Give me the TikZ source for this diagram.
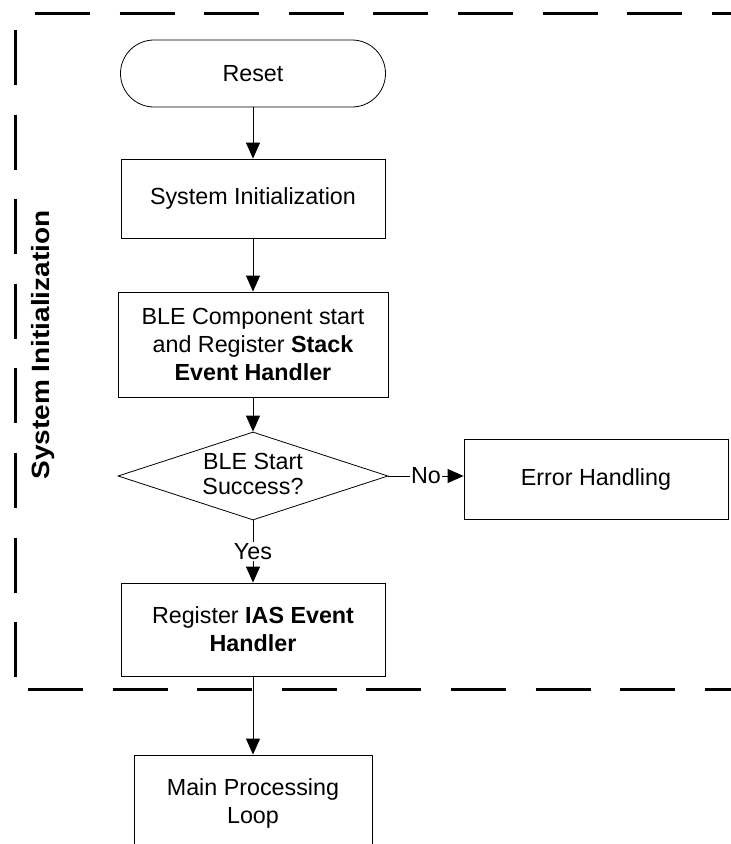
\documentclass[tikz,border=0pt]{standalone}
\usepackage{fontspec}
\setmainfont{Liberation Sans}
\usetikzlibrary{arrows.meta,shapes.geometric}
\begin{document}
\begin{tikzpicture}[x=1pt,y=-1pt,
  box/.style={draw, line width=0.8pt, rectangle, inner sep=0pt, align=center,
    font=\fontsize{23.3}{28}\selectfont},
  conn/.style={line width=0.9pt, -{Triangle[length=16pt,width=14pt]}},
  border/.style={line width=3pt, dash pattern=on 55pt off 29.6pt},
  lbl/.style={fill=white, inner sep=1pt, font=\fontsize{23.3}{28}\selectfont}]
\useasboundingbox (0,0) rectangle (731,844);
\clip (0,0) rectangle (731,844);
% dashed frame
\draw[border] (35,13) -- (780,13);
\draw[border] (15,30) -- (15,681);
\draw[border] (28,689) -- (780,689);
% title
\node[font=\bfseries\fontsize{25}{30}\selectfont, rotate=90] (title) at (43,345)
  {\scalebox{1.12}[1]{System Initialization}};
% nodes
\node[box, rounded corners=33.5pt, minimum width=265pt, minimum height=67pt] (reset) at (253,73.5) {Reset};
\node[box, minimum width=264pt, minimum height=79pt] (sysinit) at (253,198.5) {System Initialization};
\node[box, minimum width=270pt, minimum height=105pt] (ble) at (253,344.5)
  {BLE Component start\\and Register \textbf{Stack}\\\textbf{Event Handler}};
\node[box, diamond, aspect=3.07, minimum width=270pt, minimum height=88pt] (dec) at (253,476)
  {\raisebox{5pt}{\begin{tabular}{@{}c@{}}BLE Start\\[-3pt]Success?\end{tabular}}};
\node[box, minimum width=264pt, minimum height=80pt] (err) at (596,479) {Error Handling};
\node[box, minimum width=264pt, minimum height=93pt] (ias) at (253,629.5)
  {Register \textbf{IAS Event}\\\textbf{Handler}};
\node[box, minimum width=238pt, minimum height=96pt] (main) at (253,803) {Main Processing\\Loop};
% connectors
\draw[conn] (reset) -- (sysinit);
\draw[conn] (sysinit) -- (ble);
\draw[conn] (ble) -- (dec);
\draw[conn] (dec.east) -- node[lbl]{No} (dec.east -| err.west);
\draw[conn] (dec) -- node[lbl]{Yes} (ias);
\draw[conn] (ias) -- (main);
\end{tikzpicture}
\end{document}
